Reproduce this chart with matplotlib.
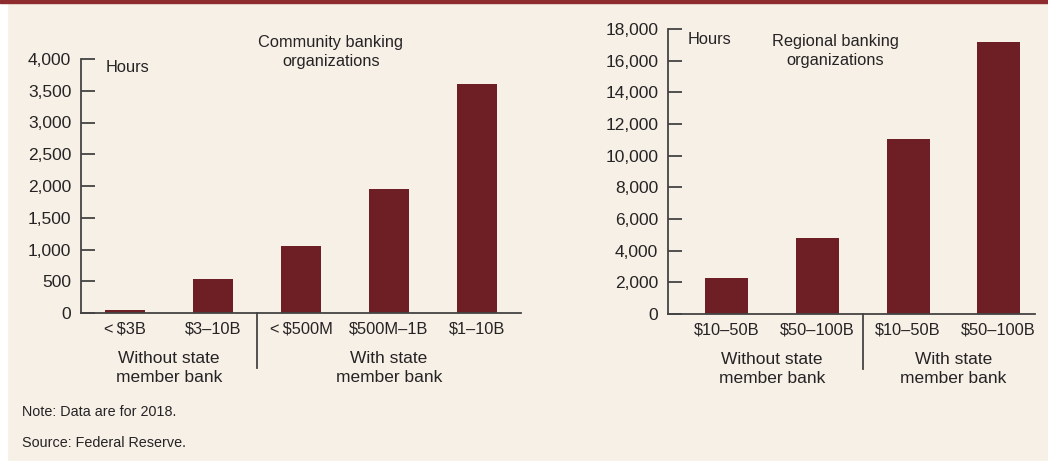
import matplotlib.pyplot as plt
import matplotlib.transforms as mtransforms
from matplotlib.patches import Rectangle

# data
comm_labels = ['<\u2009$3B', '$3–10B', '<\u2009$500M', '$500M–1B', '$1–10B']
comm_hours = [40, 530, 1060, 1960, 3600]
comm_ticks = [0, 500, 1000, 1500, 2000, 2500, 3000, 3500, 4000]

reg_labels = ['$10–50B', '$50–100B', '$10–50B', '$50–100B']
reg_hours = [2270, 4800, 11050, 17150]
reg_ticks = list(range(0, 18001, 2000))

group_names = ['Without state\nmember bank', 'With state\nmember bank']

bg = '#f7f0e7'
bar_col = '#6d1f25'
ink = '#262324'

plt.rcParams['font.family'] = ['Liberation Sans', 'DejaVu Sans']
fs = 12.5
fs_txt = 11.8

W, H = 1048, 463
fig = plt.figure(figsize=(W / 100, H / 100), dpi=100)
fig.patch.set_facecolor(bg)
# white left and bottom strips, red top rule
fig.add_artist(Rectangle((0, 0), 7 / W, 1, transform=fig.transFigure, color='white', zorder=0))
fig.add_artist(Rectangle((0, 0), 1, 2 / H, transform=fig.transFigure, color='white', zorder=0))
fig.add_artist(Rectangle((0, 1 - 2.5 / H), 1, 2.5 / H, transform=fig.transFigure, color='#8e2b2f', zorder=5))


def px_axes(x0, x1, ytop, ybot):
    return fig.add_axes([x0 / W, (H - ybot) / H, (x1 - x0) / W, (ybot - ytop) / H])


def style(ax, ymax, ticks, labels, values, xlim, width):
    ax.set_facecolor('none')
    x = list(range(len(values)))
    ax.bar(x, values, width=width, color=bar_col, zorder=2)
    ax.set_xlim(*xlim)
    ax.set_ylim(0, ymax)
    ax.set_yticks(ticks)
    ax.set_yticklabels([f'{t:,}' for t in ticks], fontsize=fs, color=ink)
    ax.set_xticks(x)
    ax.set_xticklabels(labels, fontsize=fs_txt, color=ink)
    ax.tick_params(axis='y', direction='in', length=10, width=1.3, color='#444444', pad=7)
    ax.tick_params(axis='x', length=0, pad=6)
    for s in ['top', 'right']:
        ax.spines[s].set_visible(False)
    for s in ['left', 'bottom']:
        ax.spines[s].set_color('#444444')
        ax.spines[s].set_linewidth(1.3)


# community banking panel
ax1 = px_axes(81, 521, 59, 313)
style(ax1, 4000, comm_ticks, comm_labels, comm_hours, (-0.5, 4.5), 0.455)
ax1.text(25 / 440, 1 - 8 / 254, 'Hours', transform=ax1.transAxes, fontsize=fs_txt, color=ink, va='center')
ax1.text(250 / 440, 1 + 7 / 254, 'Community banking\norganizations', transform=ax1.transAxes,
         fontsize=fs_txt, color=ink, ha='center', va='center', linespacing=1.3)

# regional banking panel
ax2 = px_axes(668, 1035, 29, 314)
style(ax2, 18000, reg_ticks, reg_labels, reg_hours, (-0.65, 3.4), 0.475)
ax2.text(20 / 367, 1 - 10 / 285, 'Hours', transform=ax2.transAxes, fontsize=fs_txt, color=ink, va='center')
ax2.text(167 / 367, 1 - 22 / 285, 'Regional banking\norganizations', transform=ax2.transAxes,
         fontsize=fs_txt, color=ink, ha='center', va='center', linespacing=1.3)

# group labels and dividers
for ax, split, n, hpx in [(ax1, 2, 5, 254), (ax2, 2, 4, 285)]:
    tr = mtransforms.blended_transform_factory(ax.transData, ax.transAxes)
    ax.plot([split - 0.5, split - 0.5], [0, -55 / hpx], transform=tr, color='#444444',
            lw=1.3, clip_on=False)
    centers = [(split - 1) / 2, (split + n - 1) / 2]
    for c, name in zip(centers, group_names):
        ax.text(c, -55 / hpx, name, transform=tr, fontsize=fs, color=ink,
                ha='center', va='center', linespacing=1.3)

fig.text(22 / W, 1 - 412 / H, 'Note: Data are for 2018.', fontsize=10.4, color=ink, va='center')
fig.text(22 / W, 1 - 443 / H, 'Source: Federal Reserve.', fontsize=10.4, color=ink, va='center')

fig.savefig('out.png', dpi=100, facecolor=bg)
